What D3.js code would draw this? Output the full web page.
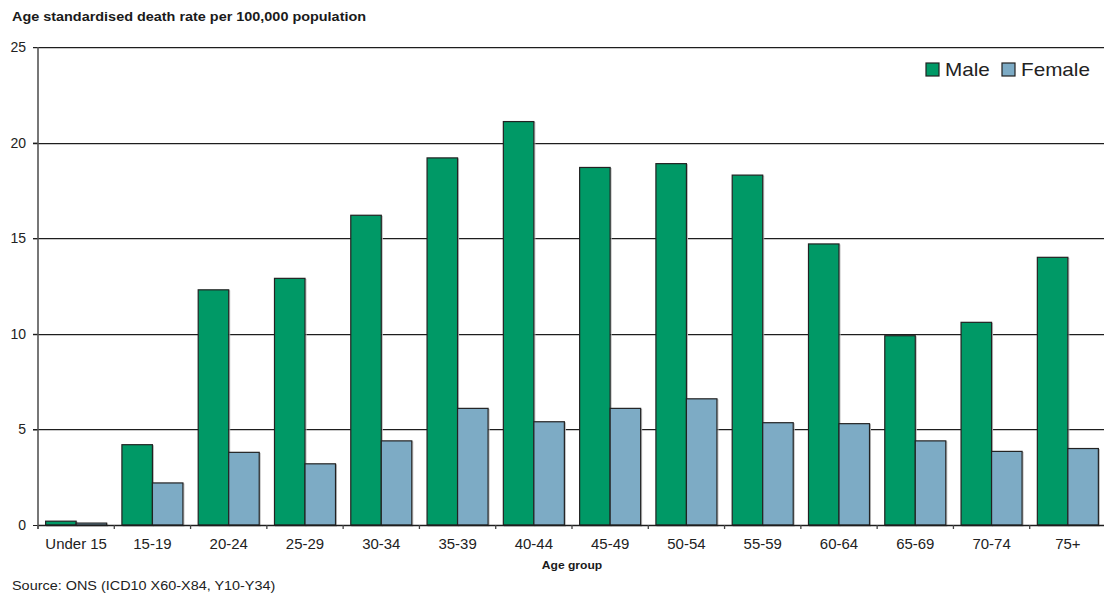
<!DOCTYPE html>
<html>
<head>
<meta charset="utf-8">
<script src="https://cdn.jsdelivr.net/npm/d3@7"></script>
<style>
  html, body { margin: 0; padding: 0; background: #fff; }
  svg { display: block; font-family: "Liberation Sans", Arial, sans-serif; }
</style>
</head>
<body>
<svg id="chart" width="1104" height="595"></svg>
<script>
// Age groups along the x axis
const ageGroups = ["Under 15", "15-19", "20-24", "25-29", "30-34", "35-39", "40-44",
  "45-49", "50-54", "55-59", "60-64", "65-69", "70-74", "75+"];
// Age standardised death rates per 100,000 population
const maleRates   = [0.2, 4.2, 12.3, 12.9, 16.2, 19.2, 21.1, 18.7, 18.9, 18.3, 14.7, 9.9, 10.6, 14.0];
const femaleRates = [0.1, 2.2, 3.8, 3.2, 4.4, 6.1, 5.4, 6.1, 6.6, 5.35, 5.3, 4.4, 3.85, 4.0];
const seriesNames = ["Male", "Female"];
const seriesColors = ["#009966", "#7dabc5"];
const yTicks = [0, 5, 10, 15, 20, 25];

const svg = d3.select("#chart");
const plotLeft = 38, plotRight = 1106, plotTop = 47, plotBottom = 525;

const x = d3.scaleBand().domain(ageGroups).range([plotLeft, plotRight]).padding(0);
const xs = d3.scaleBand().domain(seriesNames).range([0, x.bandwidth()])
  .paddingInner(0).paddingOuter(0.25);
const y = d3.scaleLinear().domain([0, 25]).range([plotBottom, plotTop]);

const rows = ageGroups.map((g, i) => ({ group: g, values: [maleRates[i], femaleRates[i]] }));

// Text with a slightly wider set, scaled horizontally about its anchor point
function wideText(parent, px, py, sx, str, opts) {
  const g = parent.append("g").attr("transform", `translate(${px},${py}) scale(${sx},1)`);
  const t = g.append("text").attr("x", 0).attr("y", 0)
    .attr("font-size", opts.size).attr("fill", opts.fill || "#222")
    .attr("text-anchor", opts.anchor || "start")
    .text(str);
  if (opts.bold) t.attr("font-weight", "bold");
  return t;
}

// Title
wideText(svg, 12, 21, 1.11, "Age standardised death rate per 100,000 population",
  { size: 13, bold: true, fill: "#1a1a1a" });

// Horizontal gridlines (with a soft shadow underneath)
const grid = svg.append("g");
grid.selectAll("line.sh").data(yTicks.filter(t => t > 0)).join("line")
  .attr("class", "sh")
  .attr("x1", 33).attr("x2", 1104)
  .attr("y1", d => Math.round(y(d)) + 1.5).attr("y2", d => Math.round(y(d)) + 1.5)
  .attr("stroke", "#c8c8c8").attr("stroke-width", 1);
grid.selectAll("line.g").data(yTicks.filter(t => t > 0)).join("line")
  .attr("class", "g")
  .attr("x1", 33).attr("x2", 1104)
  .attr("y1", d => Math.round(y(d)) + 0.5).attr("y2", d => Math.round(y(d)) + 0.5)
  .attr("stroke", "#1e1e1e").attr("stroke-width", 1.1);

// Y axis
const yAxis = d3.axisLeft(y).tickValues(yTicks).tickSize(5).tickPadding(7)
  .tickFormat(d3.format("d"));
const yg = svg.append("g").attr("transform", `translate(${plotLeft},0)`).call(yAxis);
yg.select(".domain").remove();
yg.selectAll(".tick line").attr("stroke", "#1e1e1e");
yg.selectAll(".tick text").attr("font-size", 14).attr("fill", "#222")
  .attr("font-family", "Liberation Sans, Arial, sans-serif");

// Bars
const groups = svg.append("g").selectAll("g").data(rows).join("g")
  .attr("transform", d => `translate(${x(d.group)},0)`);
groups.selectAll("rect.sh").data(d => d.values.map((v, i) => ({ v, s: seriesNames[i], i })))
  .join("rect").attr("class", "sh")
  .attr("x", d => xs(d.s) + 1).attr("y", d => y(d.v) + 1)
  .attr("width", xs.bandwidth()).attr("height", d => y(0) - y(d.v))
  .attr("fill", "none").attr("stroke", "#bdbdbd").attr("stroke-width", 1);
groups.selectAll("rect.bar").data(d => d.values.map((v, i) => ({ v, s: seriesNames[i], i })))
  .join("rect").attr("class", "bar")
  .attr("x", d => xs(d.s)).attr("y", d => y(d.v))
  .attr("width", xs.bandwidth()).attr("height", d => y(0) - y(d.v))
  .attr("fill", d => seriesColors[d.i]).attr("stroke", "#222").attr("stroke-width", 1.2);

// X axis with ticks between groups
const xg = svg.append("g").attr("transform", `translate(0,${plotBottom})`);
xg.append("line").attr("x1", plotLeft).attr("x2", plotRight).attr("y1", 0.5).attr("y2", 0.5)
  .attr("stroke", "#1e1e1e").attr("stroke-width", 1.3);
xg.selectAll("line.tk").data(ageGroups).join("line").attr("class", "tk")
  .attr("x1", d => x(d)).attr("x2", d => x(d)).attr("y1", 0).attr("y2", 4)
  .attr("stroke", "#444").attr("stroke-width", 1.3);
ageGroups.forEach(g => {
  wideText(xg, x(g) + x.bandwidth() / 2, 24, 1.07, g, { size: 14, anchor: "middle" });
});

// Y axis line
svg.append("line").attr("x1", plotLeft).attr("x2", plotLeft).attr("y1", plotTop).attr("y2", plotBottom + 4)
  .attr("stroke", "#555").attr("stroke-width", 1.6);

// X axis title
wideText(svg, 572, 569, 1.05, "Age group", { size: 11.5, bold: true, fill: "#1a1a1a", anchor: "middle" });

// Source note
wideText(svg, 12, 590, 1.11, "Source: ONS (ICD10 X60-X84, Y10-Y34)", { size: 13 });

// Legend
const legend = svg.append("g").attr("transform", "translate(926,63)");
const legendX = [0, 76];
seriesNames.forEach((name, i) => {
  const item = legend.append("g").attr("transform", `translate(${legendX[i]},0)`);
  item.append("rect").attr("x", 0).attr("y", 0).attr("width", 13).attr("height", 13)
    .attr("fill", seriesColors[i]).attr("stroke", "#222").attr("stroke-width", 1.2);
  wideText(item, 19, 13, 1.15, name, { size: 18 });
});
</script>
</body>
</html>
